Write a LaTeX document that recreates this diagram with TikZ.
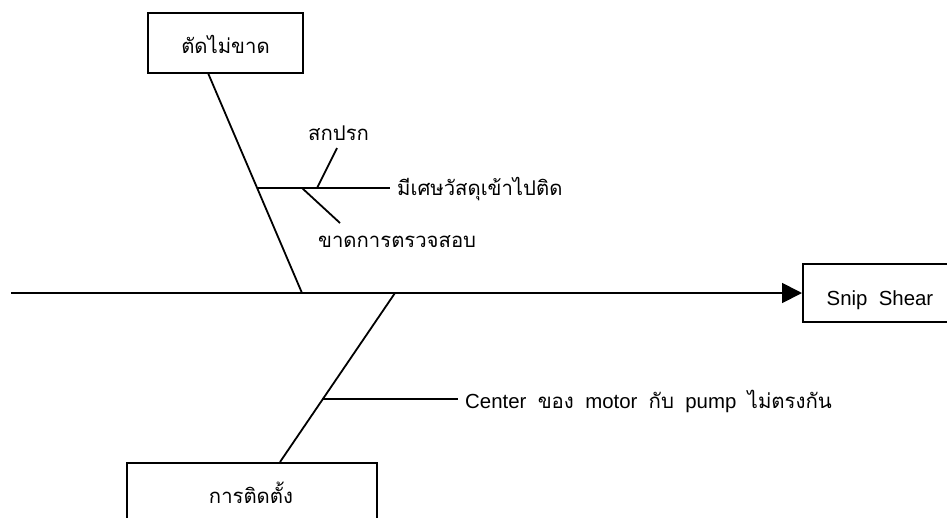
\documentclass[tikz,border=0pt]{standalone}
\usepackage{fontspec}
\setmainfont{Liberation Sans}
\newfontfamily\thai[Script=Thai]{Loma}
\usetikzlibrary{arrows.meta}
\begin{document}
\begin{tikzpicture}[x=1pt,y=-1pt,
  bone/.style={line width=1.8pt},
  boxnode/.style={draw,line width=1.8pt,inner sep=0pt},
  lbl/.style={inner sep=0pt,font=\fontsize{20.4}{23}\selectfont},
  thlbl/.style={inner sep=0pt,font=\fontsize{20.3}{23}\selectfont\thai}]
\clip (0,0) rectangle (947,517);
\fill[white] (0,0) rectangle (947,517);
% boxes
\node[boxnode,minimum width=155pt,minimum height=60pt] (top) at (225.5,43) {};
\node[thlbl,anchor=base] (toptxt) at (225.5,53) {ตัดไม่ขาด};
\node[boxnode,minimum width=150pt,minimum height=58pt,anchor=west] (snip) at (802,293) {};
\node[lbl,anchor=base] (sniptxt) at (880,305) {Snip\ \ Shear};
\node[boxnode,minimum width=250pt,minimum height=80pt,anchor=north west] (bot) at (126,462) {};
\node[thlbl,anchor=base] (bottxt) at (251,503) {การติดตั้ง};
% spine
\coordinate (spinestart) at (11,293);
\coordinate (j1) at (302,293);
\coordinate (j2) at (395,293);
\draw[bone,-{Triangle[length=20pt,width=20pt]}] (spinestart) -- (snip.west);
% top bone
\coordinate (t0) at (208,73);
\coordinate (tb) at (257,188);
\draw[bone] (t0) -- (j1);
\coordinate (tbe) at (390,188);
\draw[bone] (tb) -- (tbe);
\node[thlbl,anchor=base west] (m1) at (397,195) {มีเศษวัสดุเข้าไปติด};
\coordinate (s1a) at (337,148);
\coordinate (s1b) at (317,188);
\draw[bone] (s1a) -- (s1b);
\node[thlbl,anchor=base west] (m2) at (308,140) {สกปรก};
\coordinate (s2a) at (302,188);
\coordinate (s2b) at (340,223);
\draw[bone] (s2a) -- (s2b);
\node[thlbl,anchor=base west] (m3) at (318,247) {ขาดการตรวจสอบ};
% bottom bone
\coordinate (b0) at (280,462);
\draw[bone] (j2) -- (b0);
\coordinate (bb) at (322,399);
\coordinate (bbe) at (458,399);
\draw[bone] (bb) -- (bbe);
\node[lbl,anchor=base west] (m4) at (465,408) {Center\ \ {\thai ของ}\ \ motor\ \ {\thai กับ}\ \ pump\ \ {\thai ไม่ตรงกัน}};
\end{tikzpicture}
\end{document}
